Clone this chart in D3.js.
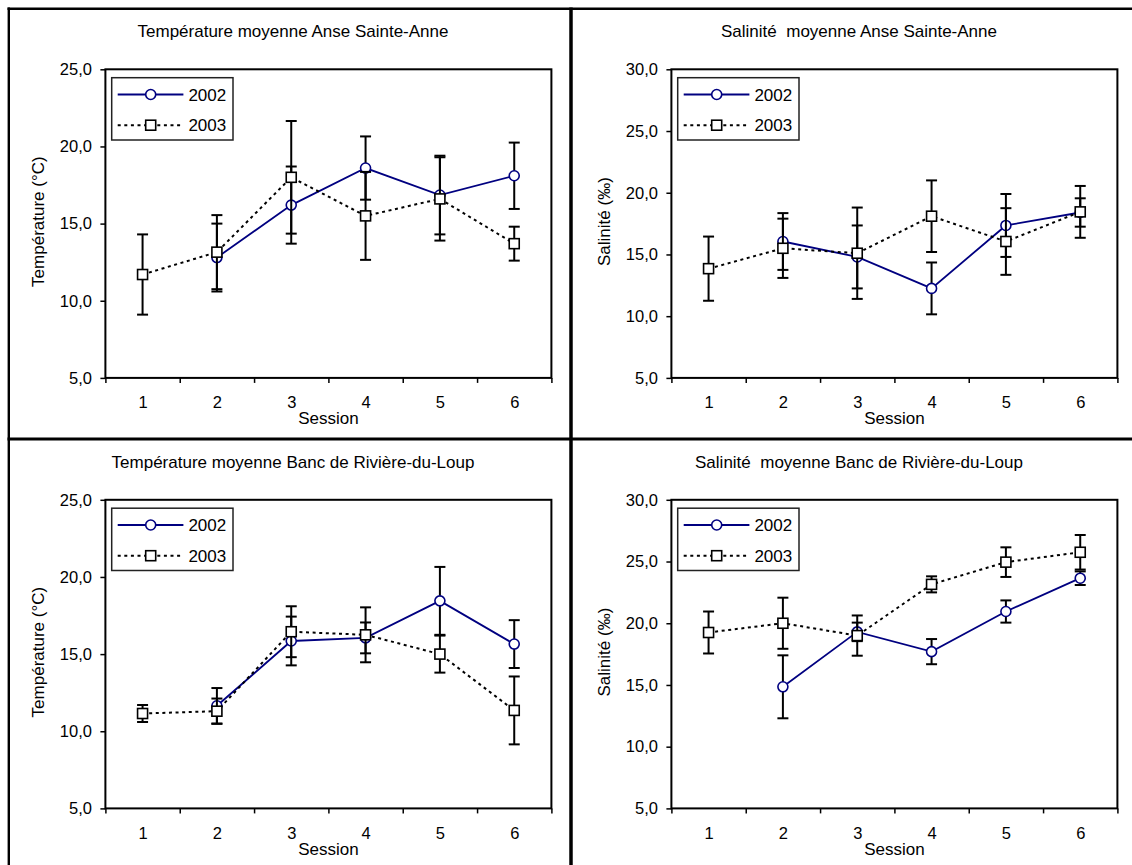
<!DOCTYPE html>
<html>
<head>
<meta charset="utf-8">
<script src="https://cdn.jsdelivr.net/npm/d3@7"></script>
<style>
  body { margin: 0; background: #fff; }
  svg text { font-family: "Liberation Sans", Arial, sans-serif; fill: #000; }
</style>
</head>
<body>
<svg id="chart" width="1132" height="865"></svg>
<script>
// categories and tick labels
const sessions = [1, 2, 3, 4, 5, 6];
const years = ["2002", "2003"];
const tempTicks = [5, 10, 15, 20, 25];
const salTicks = [5, 10, 15, 20, 25, 30];

// Anse Sainte-Anne, temperature (mean, +/- error)
const tempASA2002 = [null, 12.8, 16.2, 18.6, 16.85, 18.1];
const tempASA2002Err = [null, 2.2, 2.5, 2.05, 2.55, 2.15];
const tempASA2003 = [11.7, 13.15, 18.0, 15.5, 16.6, 13.7];
const tempASA2003Err = [2.6, 2.4, 3.65, 2.85, 2.7, 1.1];

// Anse Sainte-Anne, salinity
const salASA2002 = [null, 16.05, 14.8, 12.25, 17.35, 18.4];
const salASA2002Err = [null, 2.3, 2.55, 2.1, 2.55, 1.15];
const salASA2003 = [13.85, 15.5, 15.1, 18.1, 16.05, 18.45];
const salASA2003Err = [2.6, 2.4, 3.7, 2.9, 2.7, 2.1];

// Banc de Riviere-du-Loup, temperature
const tempRDL2002 = [null, 11.65, 15.85, 16.05, 18.45, 15.65];
const tempRDL2002Err = [null, 1.15, 1.58, 1.0, 2.2, 1.55];
const tempRDL2003 = [11.15, 11.3, 16.45, 16.25, 15.0, 11.35];
const tempRDL2003Err = [0.55, 0.82, 1.65, 1.78, 1.2, 2.2];

// Banc de Riviere-du-Loup, salinity
const salRDL2002 = [null, 14.85, 19.3, 17.7, 20.95, 23.65];
const salRDL2002Err = [null, 2.55, 0.75, 1.02, 0.9, 0.55];
const salRDL2003 = [19.25, 20.0, 19.0, 23.15, 24.95, 25.75];
const salRDL2003Err = [1.7, 2.07, 1.63, 0.65, 1.2, 1.4];

const panels = [
    {title: "Température moyenne Anse Sainte-Anne", yLabel: "Température (°C)", ticks: tempTicks,
     series: [[tempASA2002, tempASA2002Err], [tempASA2003, tempASA2003Err]]},
    {title: "Salinité  moyenne Anse Sainte-Anne", yLabel: "Salinité (‰)", ticks: salTicks,
     series: [[salASA2002, salASA2002Err], [salASA2003, salASA2003Err]]},
    {title: "Température moyenne Banc de Rivière-du-Loup", yLabel: "Température (°C)", ticks: tempTicks,
     series: [[tempRDL2002, tempRDL2002Err], [tempRDL2003, tempRDL2003Err]]},
    {title: "Salinité  moyenne Banc de Rivière-du-Loup", yLabel: "Salinité (‰)", ticks: salTicks,
     series: [[salRDL2002, salRDL2002Err], [salRDL2003, salRDL2003Err]]}
];

const cfg = {
    plotLeft: 105.4, plotTop: 69.3, plotWidth: 446, plotHeight: 308.6,
    colStep: 566, rowStep: 430.5
};

const styles = [
    {stroke: "#000080", width: 1.8, dash: null, marker: "circle"},
    {stroke: "#000", width: 2, dash: "3,3.6", marker: "square"}
];

const fmt = d3.formatLocale({decimal: ",", thousands: " ", grouping: [3], currency: ["", " €"]}).format(".1f");

const svg = d3.select("#chart");

// outer frame and dividers
const frame = svg.append("g").attr("stroke", "#000").attr("fill", "none");
frame.append("line").attr("x1", 7.5).attr("x2", 1132).attr("y1", 8.8).attr("y2", 8.8).attr("stroke-width", 2.4);
frame.append("line").attr("x1", 8.8).attr("x2", 8.8).attr("y1", 7.5).attr("y2", 865).attr("stroke-width", 2.4);
frame.append("line").attr("x1", 571).attr("x2", 571).attr("y1", 7.5).attr("y2", 865).attr("stroke-width", 3.5);
frame.append("line").attr("x1", 7.5).attr("x2", 1132).attr("y1", 439).attr("y2", 439).attr("stroke-width", 3.2);

panels.forEach((p, i) => drawPanel(p, i % 2, Math.floor(i / 2)));

function drawPanel(p, col, row) {
    const g = svg.append("g")
        .attr("transform", `translate(${col * cfg.colStep},${row * cfg.rowStep})`);

    g.append("text")
        .attr("x", 293).attr("y", 37.3)
        .attr("text-anchor", "middle")
        .style("font-size", "17px")
        .style("white-space", "pre")
        .text(p.title);

    const plot = g.append("g")
        .attr("transform", `translate(${cfg.plotLeft},${cfg.plotTop})`);

    const x = d3.scaleLinear().domain([0.5, 6.5]).range([0, cfg.plotWidth]);
    const y = d3.scaleLinear().domain(d3.extent(p.ticks)).range([cfg.plotHeight, 0]);

    // y axis
    const yAxis = plot.append("g")
        .call(d3.axisLeft(y).tickValues(p.ticks).tickSize(5).tickPadding(8.5).tickFormat(fmt));
    yAxis.select(".domain").remove();
    yAxis.selectAll("line").attr("stroke-width", 1.5);
    yAxis.selectAll("text").style("font-size", "16.5px").attr("font-family", null);

    // x axis: boundary marks + centred labels
    const xMarks = plot.append("g")
        .attr("transform", `translate(0,${cfg.plotHeight})`)
        .call(d3.axisBottom(x).tickValues(d3.range(0.5, 7, 1)).tickSize(5).tickFormat(""));
    xMarks.select(".domain").remove();
    xMarks.selectAll("line").attr("stroke-width", 1.5);

    const xLabels = plot.append("g")
        .attr("transform", `translate(0,${cfg.plotHeight})`)
        .call(d3.axisBottom(x).tickValues(sessions).tickSize(0).tickFormat(d3.format("d")));
    xLabels.select(".domain").remove();
    xLabels.selectAll("text").attr("y", 30.3).attr("dy", null).style("font-size", "16.5px");

    plot.append("text")
        .attr("x", cfg.plotWidth / 2).attr("y", cfg.plotHeight + 46.5)
        .attr("text-anchor", "middle")
        .style("font-size", "17px")
        .text("Session");

    g.append("text")
        .attr("transform", `translate(44,${cfg.plotTop + cfg.plotHeight / 2 - 2}) rotate(-90)`)
        .attr("text-anchor", "middle")
        .style("font-size", "17px")
        .text(p.yLabel);

    // plot frame
    plot.append("rect")
        .attr("width", cfg.plotWidth).attr("height", cfg.plotHeight)
        .attr("fill", "none").attr("stroke", "#000").attr("stroke-width", 2);

    const line = d3.line()
        .defined(d => d.v != null)
        .x(d => x(d.s)).y(d => y(d.v));

    p.series.forEach(([vals, errs], k) => {
        const st = styles[k];
        const pts = sessions.map((s, j) => ({s: s, v: vals[j], e: errs[j]}));
        const valid = pts.filter(d => d.v != null);
        const sg = plot.append("g");

        sg.append("path")
            .datum(pts)
            .attr("d", line)
            .attr("fill", "none")
            .attr("stroke", st.stroke)
            .attr("stroke-width", st.width)
            .attr("stroke-dasharray", st.dash);

        // error bars
        const eb = sg.selectAll(".err").data(valid).enter().append("g")
            .attr("stroke", "#000").attr("stroke-width", 2);
        eb.append("line")
            .attr("x1", d => x(d.s)).attr("x2", d => x(d.s))
            .attr("y1", d => y(d.v + d.e)).attr("y2", d => y(d.v - d.e));
        eb.append("line")
            .attr("x1", d => x(d.s) - 5.5).attr("x2", d => x(d.s) + 5.5)
            .attr("y1", d => y(d.v + d.e)).attr("y2", d => y(d.v + d.e));
        eb.append("line")
            .attr("x1", d => x(d.s) - 5.5).attr("x2", d => x(d.s) + 5.5)
            .attr("y1", d => y(d.v - d.e)).attr("y2", d => y(d.v - d.e));

        drawMarkers(sg, valid, st, d => x(d.s), d => y(d.v));
    });

    // legend
    const lg = plot.append("g").attr("transform", "translate(6.3,8.4)");
    lg.append("rect")
        .attr("width", 121.3).attr("height", 62.3)
        .attr("fill", "#fff").attr("stroke", "#222").attr("stroke-width", 1.5);
    years.forEach((yr, k) => {
        const st = styles[k];
        const ly = 16.8 + k * 30.7;
        lg.append("line")
            .attr("x1", 6).attr("x2", 71.7).attr("y1", ly).attr("y2", ly)
            .attr("stroke", st.stroke).attr("stroke-width", st.width)
            .attr("stroke-dasharray", st.dash);
        drawMarkers(lg, [0], st, () => 39, () => ly);
        lg.append("text")
            .attr("x", 76.7).attr("y", ly).attr("dy", "0.36em")
            .style("font-size", "17px")
            .text(yr);
    });
}

function drawMarkers(sel, data, st, fx, fy) {
    if (st.marker === "circle") {
        sel.selectAll(null).data(data).enter().append("circle")
            .attr("cx", fx).attr("cy", fy).attr("r", 5)
            .attr("fill", "#fff").attr("stroke", st.stroke).attr("stroke-width", 1.6);
    } else {
        sel.selectAll(null).data(data).enter().append("rect")
            .attr("x", d => fx(d) - 5).attr("y", d => fy(d) - 5)
            .attr("width", 10).attr("height", 10)
            .attr("fill", "#fff").attr("stroke", "#000").attr("stroke-width", 1.6);
    }
}
</script>
</body>
</html>
